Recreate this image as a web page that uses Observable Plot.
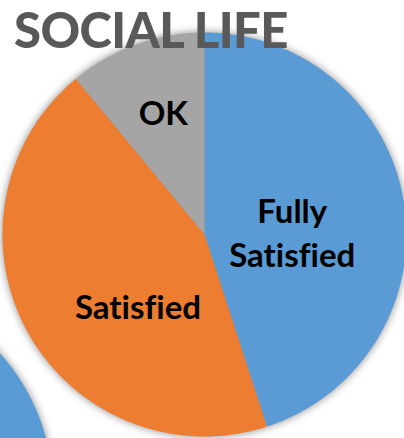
<!DOCTYPE html>
<html>
<head>
<meta charset="utf-8">
<script src="https://cdn.jsdelivr.net/npm/d3@7"></script>
<script src="https://cdn.jsdelivr.net/npm/@observablehq/plot@0.6"></script>
<style>
  html, body { margin: 0; padding: 0; background: #fff; overflow: hidden; }
  #wrap { position: relative; width: 404px; height: 438px; overflow: hidden; }
  #title { position: absolute; left: 14px; top: 0px; font-family: Lato, sans-serif; font-weight: 900;
           font-size: 49px; line-height: normal; letter-spacing: -0.6px; color: #595959; white-space: nowrap; z-index: 2;
           font-variant-ligatures: none; }
  #chart { position: absolute; left: 0; top: 0; }
  #chart text { font-variant-ligatures: none; }
</style>
</head>
<body>
<div id="wrap">
  <div id="chart"></div>
  <div id="title">SOCIAL LIFE</div>
</div>
<script>
// ---- data ----
const categories = ["Fully Satisfied", "Satisfied", "OK"];
const values = [45, 44, 11];
const colors = ["#5B9BD5", "#ED7D31", "#A5A5A5"];
const labelLines = ["Fully\nSatisfied", "Satisfied", "OK"];
// neighbouring pie (only its blue slice is visible at lower left)
const neighborCategories = ["Fully Satisfied"];
const neighborValues = [1];

// ---- layout ----
const W = 404, H = 438;
const cx = 204, cy = 234, R = 202;        // main pie centre / radius in px
const neighborCenter = [-1.752, -1.262];  // in pie-radius units

function slicePoints(cats, vals, center, key) {
  const pie = d3.pie().sort(null).value(d => d.v)(cats.map((c, i) => ({c, v: vals[i]})));
  const pts = [];
  pie.forEach((s, i) => {
    const k = key + "-" + i;
    pts.push({key: k, cat: s.data.c, x: center[0], y: center[1]});
    const a0 = s.startAngle, a1 = s.endAngle;
    const n = Math.max(2, Math.ceil((a1 - a0) / (Math.PI / 360)));
    for (let j = 0; j <= n; j++) {
      const a = a0 + (a1 - a0) * j / n;
      pts.push({key: k, cat: s.data.c, x: center[0] + Math.sin(a), y: center[1] + Math.cos(a)});
    }
    pts.push({key: k, cat: s.data.c, x: center[0], y: center[1]});
  });
  return {pie, pts};
}

const main = slicePoints(categories, values, [0, 0], "main");
const neighbor = slicePoints(neighborCategories, neighborValues, neighborCenter, "nb");

const labels = main.pie.map((s, i) => {
  const m = (s.startAngle + s.endAngle) / 2;
  return {text: labelLines[i], x: 0.5 * Math.sin(m), y: 0.5 * Math.cos(m)};
});
const labelShift = [[-12, 12], [22, 22], [-7, -29]];

const textOpts = {fontFamily: "Lato, sans-serif", fontWeight: 700, fontSize: 33, fill: "#000", lineHeight: 1.33};

const plot = Plot.plot({
  width: W, height: H,
  margin: 0,
  style: {background: "transparent", overflow: "hidden"},
  x: {domain: [-1, 1], range: [cx - R, cx + R], axis: null},
  y: {domain: [-1, 1], range: [cy + R, cy - R], axis: null},
  color: {domain: categories, range: colors},
  marks: [
    Plot.line(neighbor.pts, {x: "x", y: "y", z: "key", fill: "cat", stroke: "none", curve: "linear"}),
    Plot.line(main.pts, {x: "x", y: "y", z: "key", fill: "cat", stroke: "none", curve: "linear"}),
    ...labels.map((l, i) => Plot.text([l], {x: "x", y: "y", text: "text", dx: labelShift[i][0], dy: labelShift[i][1], ...textOpts}))
  ]
});
d3.select(plot).selectAll("g[aria-label='line']").style("filter", "drop-shadow(0px 0px 4px rgba(0,0,0,0.45))");
document.getElementById("chart").appendChild(plot);
</script>
</body>
</html>
